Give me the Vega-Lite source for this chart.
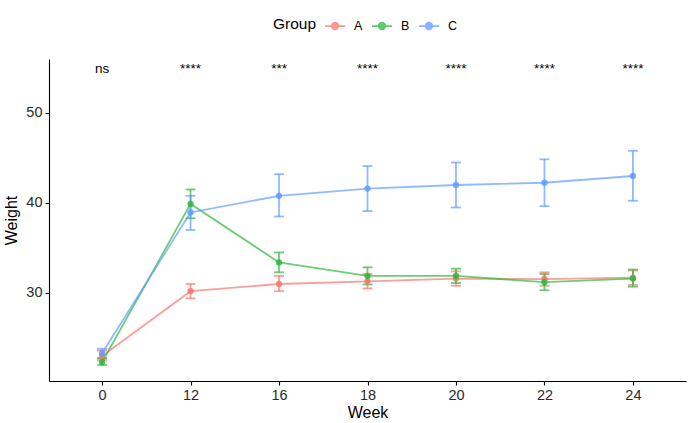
{
  "$schema": "https://vega.github.io/schema/vega-lite/v6.json",
  "autosize": {"type": "none"},
  "width": 637,
  "height": 322,
  "padding": {"left": 49, "top": 59, "right": 2, "bottom": 42},
  "background": "white",
  "config": {
    "view": {"stroke": null},
    "font": "Liberation Sans",
    "axis": {
      "domainColor": "black",
      "domainWidth": 1.1,
      "tickColor": "black",
      "tickSize": 4,
      "tickWidth": 1.1,
      "labelColor": "#2b2b2b",
      "labelFontSize": 14.5,
      "titleFontSize": 16,
      "titleFontWeight": "normal",
      "titleColor": "black",
      "grid": false
    }
  },
  "datasets": {
    "summary": [
      {"Week": 0, "Group": "A", "Weight": 23.0, "lo": 22.5, "hi": 23.6},
      {"Week": 12, "Group": "A", "Weight": 30.2, "lo": 29.4, "hi": 31.0},
      {"Week": 16, "Group": "A", "Weight": 31.0, "lo": 30.2, "hi": 31.9},
      {"Week": 18, "Group": "A", "Weight": 31.3, "lo": 30.5, "hi": 32.1},
      {"Week": 20, "Group": "A", "Weight": 31.6, "lo": 30.8, "hi": 32.4},
      {"Week": 22, "Group": "A", "Weight": 31.55, "lo": 30.8, "hi": 32.3},
      {"Week": 24, "Group": "A", "Weight": 31.7, "lo": 30.9, "hi": 32.5},
      {"Week": 0, "Group": "B", "Weight": 22.3, "lo": 22.0, "hi": 22.7},
      {"Week": 12, "Group": "B", "Weight": 39.9, "lo": 38.3, "hi": 41.5},
      {"Week": 16, "Group": "B", "Weight": 33.4, "lo": 32.3, "hi": 34.5},
      {"Week": 18, "Group": "B", "Weight": 31.9, "lo": 30.95, "hi": 32.85},
      {"Week": 20, "Group": "B", "Weight": 31.9, "lo": 31.1, "hi": 32.7},
      {"Week": 22, "Group": "B", "Weight": 31.2, "lo": 30.3, "hi": 32.1},
      {"Week": 24, "Group": "B", "Weight": 31.6, "lo": 30.7, "hi": 32.6},
      {"Week": 0, "Group": "C", "Weight": 23.3, "lo": 22.8, "hi": 23.8},
      {"Week": 12, "Group": "C", "Weight": 38.95, "lo": 37.0, "hi": 40.8},
      {"Week": 16, "Group": "C", "Weight": 40.8, "lo": 38.5, "hi": 43.2},
      {"Week": 18, "Group": "C", "Weight": 41.6, "lo": 39.1, "hi": 44.1},
      {"Week": 20, "Group": "C", "Weight": 42.0, "lo": 39.5, "hi": 44.5},
      {"Week": 22, "Group": "C", "Weight": 42.25, "lo": 39.65, "hi": 44.85},
      {"Week": 24, "Group": "C", "Weight": 43.0, "lo": 40.25, "hi": 45.8}
    ],
    "signif": [
      {"Week": 0, "label": "ns", "Weight": 54.9},
      {"Week": 12, "label": "****", "Weight": 54.9},
      {"Week": 16, "label": "***", "Weight": 54.9},
      {"Week": 18, "label": "****", "Weight": 54.9},
      {"Week": 20, "label": "****", "Weight": 54.9},
      {"Week": 22, "label": "****", "Weight": 54.9},
      {"Week": 24, "label": "****", "Weight": 54.9}
    ]
  },
  "encoding": {
    "x": {
      "field": "Week",
      "type": "ordinal",
      "scale": {"type": "point", "padding": 0.6, "domain": [0, 12, 16, 18, 20, 22, 24]},
      "axis": {"title": "Week", "labelAngle": 0, "labelPadding": 3, "titlePadding": 3}
    }
  },
  "layer": [
    {
      "data": {"name": "summary"},
      "mark": {"type": "line", "strokeWidth": 1.8, "opacity": 0.7},
      "encoding": {
        "y": {
          "field": "Weight",
          "type": "quantitative",
          "title": "Weight",
          "scale": {"domain": [20.22, 56.0], "nice": false, "zero": false},
          "axis": {"values": [30, 40, 50], "labelPadding": 3, "titlePadding": 6}
        },
        "color": {
          "field": "Group",
          "type": "nominal",
          "scale": {"domain": ["A", "B", "C"], "range": ["#F8766D", "#2DB83D", "#619CFF"]},
          "legend": {
            "orient": "none",
            "direction": "horizontal",
            "legendX": 224,
            "legendY": -44,
            "title": "Group",
            "titleOrient": "left",
            "titleFontSize": 15.5,
            "titleFontWeight": "normal",
            "titleColor": "black",
            "titlePadding": 7,
            "labelFontSize": 12.5,
            "labelColor": "black",
            "labelOffset": 8,
            "columnPadding": 5,
            "symbolType": "M-1,0H1M-0.33,0A0.33,0.33 0 1,1 0.33,0A0.33,0.33 0 1,1 -0.33,0Z",
            "symbolSize": 400,
            "symbolStrokeWidth": 1.8,
            "symbolOpacity": 0.75,
            "encode": {
              "symbols": {
                "update": {
                  "fill": {"scale": "color", "field": "value"},
                  "stroke": {"scale": "color", "field": "value"}
                }
              }
            }
          }
        }
      }
    },
    {
      "data": {"name": "summary"},
      "mark": {"type": "errorbar", "ticks": {"size": 10}, "thickness": 1.8, "opacity": 0.7},
      "encoding": {
        "y": {"field": "lo", "type": "quantitative", "title": "Weight"},
        "y2": {"field": "hi"},
        "color": {"field": "Group", "type": "nominal"}
      }
    },
    {
      "data": {"name": "summary"},
      "mark": {"type": "point", "filled": true, "size": 40, "opacity": 0.85},
      "encoding": {
        "y": {"field": "Weight", "type": "quantitative", "title": "Weight"},
        "color": {"field": "Group", "type": "nominal"}
      }
    },
    {
      "data": {"name": "signif"},
      "mark": {"type": "text", "fontSize": 13.5, "color": "black", "baseline": "middle"},
      "encoding": {
        "y": {"field": "Weight", "type": "quantitative", "title": "Weight"},
        "text": {"field": "label"}
      }
    }
  ]
}
